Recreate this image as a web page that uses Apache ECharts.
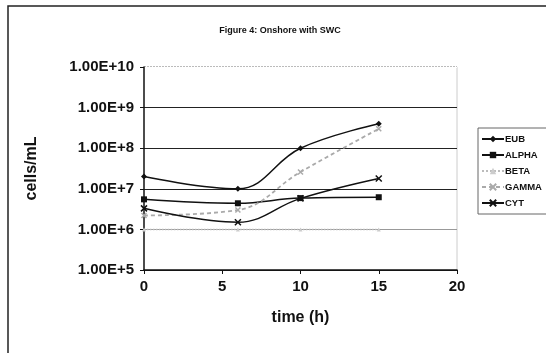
<!DOCTYPE html>
<html style="height: 100%">
<head>
    <meta charset="utf-8">
</head>
<body style="height: 100%; margin: 0; background: #fff">
    <div id="container" style="height: 100%"></div>
    <script src="https://cdn.jsdelivr.net/npm/echarts/dist/echarts.min.js"></script>
    <script type="text/javascript">
        var times = [0, 6, 10, 15];
        var seriesNames = ['EUB', 'ALPHA', 'BETA', 'GAMMA', 'CYT'];
        var eub = [2.0e7, 1.0e7, 1.0e8, 4.0e8];
        var alpha = [5.5e6, 4.4e6, 5.9e6, 6.2e6];
        var beta = [1.0e6, 1.0e6, 1.0e6, 1.0e6];
        var gamma = [2.2e6, 3.0e6, 2.6e7, 3.0e8];
        var cyt = [3.3e6, 1.5e6, 5.8e6, 1.8e7];

        var xPath = 'path://M0,0L10,10M10,0L0,10';
        var font = 'Liberation Sans, Arial, sans-serif';

        function pts(vals) {
            return vals.map(function (v, i) { return [times[i], v]; });
        }

        var dom = document.getElementById('container');
        var myChart = echarts.init(dom);

        var option = {
            animation: false,
            title: {
                text: 'Figure 4: Onshore with SWC',
                left: 275,
                textAlign: 'center',
                top: 21,
                textStyle: { fontSize: 9, fontWeight: 'bold', fontFamily: font, color: '#111' }
            },
            legend: {
                orient: 'vertical',
                left: 478,
                top: 128,
                itemWidth: 22,
                itemHeight: 8,
                itemGap: 6,
                padding: [6, 8, 6, 3],
                borderColor: '#666',
                borderWidth: 1,
                data: seriesNames,
                textStyle: { fontSize: 9.5, fontWeight: 'bold', fontFamily: font, color: '#111', padding: [0, 0, 0, -4] }
            },
            grid: { left: 144, right: 89, top: 67, bottom: 83 },
            xAxis: {
                type: 'value',
                min: 0, max: 20, interval: 5,
                name: 'time (h)',
                nameLocation: 'middle',
                nameGap: 40,
                nameTextStyle: { fontSize: 16, fontWeight: 'bold', fontFamily: font, color: '#111' },
                axisLine: { lineStyle: { color: '#111', width: 1.5 } },
                axisTick: { show: true, length: 4, lineStyle: { color: '#111' } },
                axisLabel: { fontSize: 15, fontWeight: 'bold', fontFamily: font, color: '#111', margin: 9 },
                splitLine: { show: false }
            },
            yAxis: {
                type: 'log',
                logBase: 10,
                min: 1e5, max: 1e10,
                name: 'cells/mL',
                nameLocation: 'middle',
                nameGap: 104,
                nameTextStyle: { fontSize: 16, fontWeight: 'bold', fontFamily: font, color: '#111' },
                axisLine: { show: true, lineStyle: { color: '#111', width: 1.5 } },
                axisTick: { show: true, length: 4, lineStyle: { color: '#111' } },
                axisLabel: {
                    fontSize: 15, fontWeight: 'bold', fontFamily: font, color: '#111', margin: 10,
                    formatter: function (v) { return v.toExponential(2).toUpperCase(); }
                },
                splitLine: { show: true, lineStyle: { color: ['#222', '#999', '#222', '#222', '#222', '#fff'], width: 1.2 } }
            },
            graphic: [
                { type: 'rect', shape: { x: 8, y: 6, width: 560, height: 360 }, style: { fill: 'none', stroke: '#222', lineWidth: 1.5 } },
                { type: 'line', shape: { x1: 144, y1: 67, x2: 457, y2: 67 }, style: { stroke: '#777', lineWidth: 1, lineDash: [2, 1] } },
                { type: 'line', shape: { x1: 457, y1: 67, x2: 457, y2: 270 }, style: { stroke: '#ccc', lineWidth: 1 } }
            ],
            series: [
                {
                    name: 'EUB', type: 'line', smooth: 0.4, data: pts(eub),
                    symbol: 'diamond', symbolSize: 6,
                    lineStyle: { color: '#111', width: 1.5 }, itemStyle: { color: '#111' }
                },
                {
                    name: 'ALPHA', type: 'line', smooth: 0.4, data: pts(alpha),
                    symbol: 'rect', symbolSize: 6,
                    lineStyle: { color: '#111', width: 1.5 }, itemStyle: { color: '#111' }
                },
                {
                    name: 'BETA', type: 'line', smooth: 0.4, data: pts(beta),
                    symbol: 'triangle', symbolSize: 4,
                    lineStyle: { color: '#bbb', width: 1.5, type: 'dotted' }, itemStyle: { color: '#ccc' }
                },
                {
                    name: 'GAMMA', type: 'line', smooth: 0.4, data: pts(gamma),
                    symbol: xPath, symbolSize: 5,
                    lineStyle: { color: '#aaa', width: 1.8, type: [4, 3] },
                    itemStyle: { color: '#aaa', borderColor: '#aaa', borderWidth: 1.5 }
                },
                {
                    name: 'CYT', type: 'line', smooth: 0.4, data: pts(cyt),
                    symbol: xPath, symbolSize: 6,
                    lineStyle: { color: '#111', width: 1.5 },
                    itemStyle: { color: '#111', borderColor: '#111', borderWidth: 1.5 }
                }
            ]
        };

        myChart.setOption(option);
    </script>
</body>
</html>
